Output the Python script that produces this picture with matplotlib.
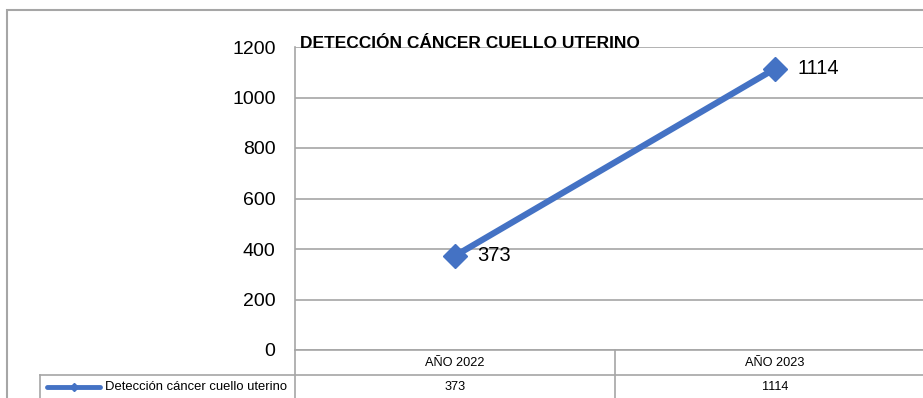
import matplotlib
matplotlib.use("Agg")
import matplotlib.pyplot as plt
from matplotlib.lines import Line2D
from matplotlib.patches import Rectangle
from matplotlib import font_manager

categories = ["AÑO 2022", "AÑO 2023"]
values = [373, 1114]
series_name = "Detección cáncer cuello uterino"
title = "DETECCIÓN CÁNCER CUELLO UTERINO"
yticks = [0, 200, 400, 600, 800, 1000, 1200]

names = {f.name for f in font_manager.fontManager.ttflist}
narrow = "Liberation Sans Narrow" if "Liberation Sans Narrow" in names else "Liberation Sans"
plt.rcParams["font.family"] = [narrow, "DejaVu Sans"]

W, H = 923, 398
fig = plt.figure(figsize=(W / 100, H / 100), dpi=100)

def fx(px):
    return px / W

def fy(py):
    return 1 - py / H

# plot area in pixel terms
left, right, top, bottom = 295, 935, 47, 350
ax = fig.add_axes([fx(left), fy(bottom), fx(right) - fx(left), fy(top) - fy(bottom)])

blue = "#4472C4"
grid = "#A6A6A6"

x = list(range(len(categories)))
ax.plot(x, values, color=blue, lw=4.5, marker="D", markersize=12,
        markeredgecolor=blue, zorder=3, clip_on=False)
for xi, v in zip(x, values):
    ax.annotate(str(v), (xi, v), xytext=(16, 0), textcoords="offset points",
                ha="left", va="center", fontsize=14.5)

ax.set_xlim(-0.5, 1.5)
ax.set_ylim(0, 1200)
ax.set_yticks(yticks)
ax.set_yticklabels([str(t) for t in yticks], fontsize=14)
ax.tick_params(axis="y", length=0, pad=14)
ax.set_xticks([])
ax.yaxis.grid(True, color=grid, lw=1.2)
ax.set_axisbelow(True)
for s in ["top", "right"]:
    ax.spines[s].set_visible(False)
ax.spines["left"].set_color(grid)
ax.spines["left"].set_linewidth(1.2)
ax.spines["bottom"].set_color(grid)
ax.spines["bottom"].set_linewidth(1.2)

fig.text(fx(300), fy(44), title, fontsize=12.5, fontweight="bold",
         ha="left", va="center")

# data table under the plot area
row_h = 25 / (bottom - top)
tr = ax.get_xaxis_transform()
ax.plot([1.5, 1.5], [0, -1], transform=tr, color=grid, lw=1.2, clip_on=False)
ax.plot([0.5, 0.5], [0, -3 * row_h], transform=tr, color=grid, lw=1.2, clip_on=False)
ax.plot([-0.5, -0.5], [0, -3 * row_h], transform=tr, color=grid, lw=1.2, clip_on=False)
for xi, cat, v in zip(x, categories, values):
    ax.text(xi, -0.5 * row_h, cat, transform=tr, ha="center", va="center", fontsize=9.2)
    ax.text(xi, -1.5 * row_h, str(v), transform=tr, ha="center", va="center", fontsize=9.2)

fig.add_artist(Line2D([fx(40), fx(W + 20)], [fy(375), fy(375)], color=grid, lw=1.2))
fig.add_artist(Line2D([fx(40), fx(40)], [fy(375), fy(H + 20)], color=grid, lw=1.2))
fig.add_artist(Line2D([fx(47), fx(100)], [fy(387), fy(387)], color=blue, lw=3.5,
                      solid_capstyle="round"))
fig.add_artist(Line2D([fx(73.5)], [fy(387)], color=blue, marker="D", markersize=4.5))
fig.text(fx(105), fy(387), series_name, fontsize=9.4, ha="left", va="center")

# chart border
fig.add_artist(Rectangle((fx(7), fy(H + 20)), fx(W + 20), fy(10) - fy(H + 20),
                         fill=False, edgecolor=grid, lw=1.5))

fig.savefig("out.png", dpi=100)
